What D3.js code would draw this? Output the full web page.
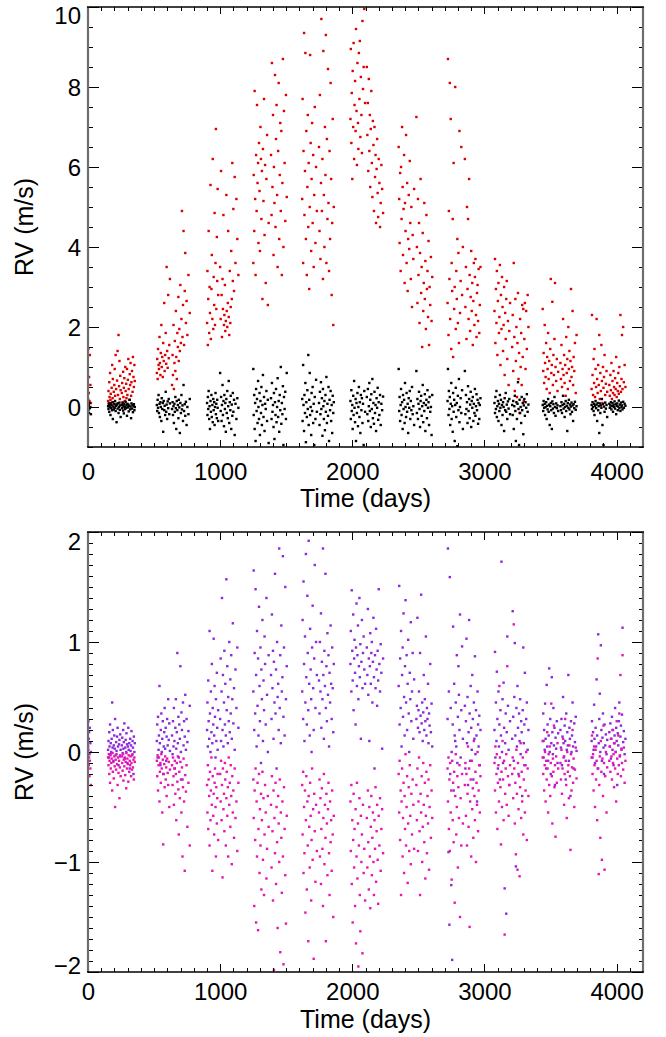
<!DOCTYPE html>
<html><head><meta charset="utf-8">
<script src="https://cdn.jsdelivr.net/npm/d3@7"></script>
<style>
html,body{margin:0;padding:0;background:#fff;}
svg{display:block;}
text{font-family:"Liberation Sans",Arial,Helvetica,sans-serif;fill:#000;}
</style></head><body>
<svg id="chart" width="666" height="1037"></svg>
<script>
// ---- DATA (one inner array per observing season) ----
const timeDays = [
[1,3,6,8,11,14,18,22],
[152,155,158,161,163,167,170,172,176,179,183,186,188,192,195,199,202,205,209,213,216,220,224,227,231,235,238,241,244,247,256,259,262,266,268,271,275,278,282,285,289,291,295,298,302,305,308,312,316,319,322,326,329,333,337,340,344,347,351,354],
[521,524,527,530,534,537,541,544,548,551,555,558,562,566,569,573,577,580,584,588,592,595,599,603,607,611,615,620,636,640,643,647,650,654,657,661,665,668,672,676,680,684,687,691,695,699,703,707,711,715,719,723,727,732,736,741,746,752,760,770],
[901,904,907,910,913,917,920,923,927,930,934,937,941,944,948,951,955,958,961,965,968,971,975,978,981,985,1000,1004,1007,1011,1014,1018,1021,1025,1029,1032,1036,1039,1043,1047,1050,1054,1058,1061,1065,1069,1073,1077,1080,1084,1088,1092,1096,1100,1105,1110,1116,1123,1130,1138],
[1251,1254,1258,1261,1265,1268,1272,1276,1279,1283,1287,1290,1294,1298,1301,1305,1309,1312,1316,1320,1324,1328,1332,1336,1340,1345,1350,1355,1361,1367,1385,1389,1392,1396,1400,1404,1407,1411,1415,1419,1423,1427,1431,1435,1439,1443,1447,1451,1455,1459,1463,1467,1471,1475,1479,1483,1488,1493,1498,1504],
[1621,1624,1628,1631,1635,1638,1642,1645,1649,1652,1656,1660,1663,1667,1670,1674,1678,1681,1685,1689,1692,1696,1700,1704,1708,1712,1716,1721,1726,1732,1748,1752,1755,1759,1763,1766,1770,1774,1778,1781,1785,1789,1793,1797,1800,1804,1808,1812,1816,1820,1824,1828,1832,1836,1840,1844,1848,1852,1856,1860],
[1986,1989,1993,1996,2000,2003,2007,2010,2014,2017,2021,2025,2028,2032,2035,2039,2043,2046,2050,2054,2057,2061,2065,2069,2073,2077,2081,2086,2091,2097,2110,2114,2118,2121,2125,2129,2133,2136,2140,2144,2148,2152,2156,2160,2164,2168,2172,2176,2180,2184,2188,2192,2196,2200,2205,2210,2215,2220,2226,2233],
[2351,2355,2358,2362,2366,2369,2373,2377,2381,2384,2388,2392,2396,2399,2403,2407,2411,2415,2419,2423,2427,2431,2435,2439,2443,2447,2452,2457,2462,2468,2485,2489,2493,2497,2501,2505,2509,2513,2517,2521,2525,2529,2533,2537,2541,2545,2549,2553,2557,2561,2565,2569,2573,2577,2581,2585,2590,2595,2600,2605],
[2721,2724,2728,2731,2735,2738,2741,2745,2749,2752,2756,2760,2763,2767,2771,2775,2779,2783,2787,2791,2795,2799,2803,2807,2811,2815,2820,2825,2831,2837,2852,2856,2860,2864,2868,2872,2876,2880,2884,2888,2892,2896,2900,2904,2908,2912,2916,2920,2924,2928,2932,2936,2940,2944,2948,2952,2956,2961,2965,2970],
[3076,3080,3083,3087,3091,3094,3098,3102,3106,3110,3113,3117,3121,3125,3129,3133,3137,3141,3145,3149,3153,3157,3161,3165,3169,3173,3178,3183,3188,3194,3210,3214,3218,3222,3226,3230,3234,3238,3242,3246,3250,3254,3258,3262,3266,3270,3274,3278,3282,3286,3290,3294,3298,3302,3306,3311,3316,3321,3327,3333],
[3441,3445,3448,3452,3456,3459,3463,3467,3471,3475,3478,3482,3486,3490,3494,3498,3502,3506,3510,3514,3518,3522,3526,3530,3534,3538,3543,3548,3553,3558,3575,3579,3583,3587,3591,3595,3599,3603,3607,3611,3615,3619,3623,3627,3631,3635,3639,3643,3647,3651,3655,3659,3663,3667,3671,3675,3680,3685,3691,3697],
[3811,3814,3818,3822,3826,3830,3833,3837,3841,3845,3849,3853,3857,3861,3865,3869,3873,3877,3881,3885,3889,3893,3897,3901,3905,3909,3914,3919,3924,3929,3945,3949,3953,3957,3961,3965,3969,3973,3977,3981,3985,3989,3993,3997,4001,4005,4009,4013,4017,4021,4025,4029,4033,4037,4041,4045,4050,4055,4061,4067]
];

// top panel, red: activity RV (m/s)
const rvActivity = [
[0.20,1.45,0.35,0.75,0.15,1.30,0.55,0.10],
[0.15,0.40,0.10,0.62,0.25,0.85,0.18,0.33,0.05,0.48,1.05,0.22,0.70,0.12,0.38,0.55,0.95,0.28,1.30,0.45,0.08,0.66,1.40,0.30,1.80,0.52,1.15,0.20,0.78,0.42,0.35,0.60,0.12,0.88,0.25,0.48,0.72,0.15,1.00,0.40,0.58,0.22,0.95,0.30,0.68,1.20,0.45,0.18,0.82,0.55,1.10,0.28,0.62,0.90,0.38,1.25,0.75,0.50,1.05,0.65],
[0.85,1.20,0.70,1.45,1.05,0.95,1.75,1.10,0.80,1.35,2.05,1.00,1.25,0.75,1.60,1.15,2.60,0.90,1.30,1.85,1.08,3.50,1.40,0.98,2.80,1.22,1.55,3.20,0.55,1.30,0.80,2.05,0.45,1.10,1.65,0.90,2.40,1.25,0.70,1.85,1.50,2.75,1.15,1.95,1.40,3.05,1.60,2.20,4.90,1.75,2.55,4.40,1.55,2.90,3.85,2.10,2.65,1.80,3.30,2.35],
[2.10,3.40,1.55,2.70,4.40,1.85,3.00,2.35,5.55,1.70,2.95,3.80,2.20,6.20,1.95,3.25,2.55,4.85,2.05,3.60,6.95,2.45,4.25,3.15,5.45,2.80,3.50,2.20,5.90,2.80,1.75,3.20,2.45,4.80,2.05,2.30,3.05,1.90,2.15,5.30,2.40,2.00,2.60,4.40,2.25,1.80,3.40,2.10,2.50,3.90,2.70,6.10,3.15,4.95,2.90,5.75,3.60,5.20,4.20,3.30],
[3.60,5.80,4.40,7.90,5.20,3.30,6.30,4.90,7.55,5.60,6.10,4.10,6.60,5.40,3.90,7.00,6.20,4.70,5.90,2.70,6.45,5.15,7.70,4.30,6.05,3.10,5.70,6.80,2.55,4.60,6.30,4.80,8.60,5.50,7.30,3.80,6.00,5.10,8.30,4.50,6.70,7.55,5.30,3.50,6.40,8.10,4.20,5.80,7.10,4.90,6.90,3.30,5.60,8.70,4.00,7.40,6.10,4.65,7.80,5.25],
[5.20,7.70,3.60,6.40,9.35,4.80,5.90,8.85,4.20,6.90,3.30,5.50,7.30,4.50,6.10,2.95,5.00,8.80,6.60,3.90,5.70,7.10,4.60,6.30,3.50,5.30,7.50,4.10,6.00,4.90,6.50,4.40,7.80,3.70,5.60,9.70,4.90,6.20,3.20,8.90,5.30,4.00,7.00,5.80,9.30,3.60,6.70,4.70,8.45,5.10,3.40,6.40,4.20,8.10,5.70,2.80,4.60,7.20,2.05,5.00],
[7.20,8.95,6.60,7.85,5.70,8.40,7.00,9.10,6.20,7.55,8.15,6.90,9.45,7.40,6.05,8.60,7.10,6.45,8.85,7.70,9.15,6.75,8.25,7.30,6.35,9.65,7.95,8.50,9.95,7.60,8.50,6.80,7.60,5.90,8.20,6.40,7.30,5.50,6.95,7.90,6.10,5.25,7.15,6.55,4.90,7.00,5.75,6.30,4.60,5.95,6.70,5.35,4.75,6.20,5.60,4.50,5.10,6.05,5.45,4.85],
[6.50,5.20,4.10,5.85,3.40,6.00,4.70,7.00,5.50,3.80,4.95,6.30,3.10,5.10,4.40,6.80,3.60,5.60,2.90,4.20,5.30,3.95,6.15,4.60,3.20,5.00,2.50,4.30,3.70,5.45,7.25,4.00,2.60,5.20,3.30,4.60,2.10,3.85,5.70,2.85,3.50,1.50,4.35,2.40,3.10,5.10,2.70,3.65,1.95,4.80,2.95,3.40,2.25,4.15,1.55,3.00,2.55,3.75,2.15,3.25],
[2.60,8.70,1.80,4.90,3.20,8.10,2.20,7.20,1.45,3.60,2.90,4.70,1.25,6.10,2.45,3.00,8.00,1.95,3.40,2.70,4.20,2.10,3.85,1.60,6.90,2.35,3.15,6.50,2.80,4.00,6.20,2.50,3.50,1.70,5.00,2.95,4.70,2.20,5.70,3.30,1.90,2.75,3.90,2.40,3.10,1.55,2.65,3.60,2.05,3.25,3.70,2.30,1.75,2.85,3.05,2.15,3.45,1.85,2.55,3.50],
[2.40,3.70,1.60,2.95,2.10,3.40,1.30,2.65,3.10,1.85,2.25,3.55,1.05,2.80,1.95,3.25,2.50,1.40,2.05,3.00,0.80,2.35,1.70,2.70,3.15,1.20,2.15,0.55,1.90,2.60,1.50,2.30,0.90,3.60,1.75,0.40,2.70,1.15,2.00,0.25,1.60,2.85,0.70,1.35,-0.15,2.20,1.00,1.85,0.55,2.55,1.25,2.45,0.15,1.70,2.60,0.95,2.40,1.45,2.80,2.00],
[2.45,0.90,1.35,0.60,2.05,1.10,0.75,1.60,0.45,1.25,0.95,1.85,0.70,1.15,0.35,1.45,3.20,0.85,1.05,2.63,0.55,1.30,0.80,1.70,3.10,1.00,0.65,1.20,0.40,0.88,1.10,0.70,1.55,0.50,0.95,2.20,0.80,1.30,0.60,1.05,0.28,1.75,0.85,1.20,0.45,2.00,0.95,1.40,0.65,1.15,2.95,0.75,1.00,2.40,0.55,1.25,0.90,1.60,0.35,1.80],
[0.45,2.30,0.80,0.30,1.20,0.60,1.45,0.25,0.95,0.50,2.20,0.70,0.35,1.05,0.55,1.80,0.20,0.85,0.40,1.55,0.65,0.10,1.00,0.48,0.75,1.30,0.30,0.58,0.90,0.38,0.55,0.28,0.80,0.42,1.10,0.20,0.65,0.35,0.90,0.50,0.30,0.72,0.45,1.25,0.25,0.60,0.40,0.85,0.33,1.00,0.52,2.30,0.38,0.70,1.80,0.45,2.00,0.62,1.05,0.50]
];

// top panel, black: residual RV (m/s)
const rvResidual = [
[0.02,-0.08,0.05,-0.15,0.10,-0.03,0.00,-0.18],
[0.02,-0.05,0.08,-0.12,0.00,0.05,-0.20,0.10,-0.03,0.04,-0.08,0.12,-0.30,0.01,-0.06,0.07,-0.02,0.15,-0.10,0.03,-0.38,0.06,-0.04,0.09,-0.15,0.00,0.11,-0.07,0.04,-0.25,0.05,-0.03,0.10,-0.09,0.02,-0.16,0.07,0.00,-0.05,0.13,-0.02,0.04,-0.22,0.08,-0.01,0.06,-0.11,0.03,0.18,-0.06,0.01,-0.28,0.09,-0.04,0.05,-0.13,0.02,0.07,-0.08,0.00],
[0.05,-0.10,0.18,-0.02,0.30,-0.15,0.08,-0.25,0.12,0.00,-0.35,0.22,-0.05,0.10,-0.62,0.15,-0.08,0.03,-0.20,0.38,-0.12,0.06,-0.30,0.14,-0.03,0.20,-0.18,0.09,-0.05,0.12,-0.20,0.02,-0.40,0.08,-0.12,0.25,-0.03,-0.55,0.15,-0.08,0.05,-0.28,0.18,-0.01,-0.65,0.10,-0.15,0.30,-0.06,0.04,-0.35,0.55,-0.10,0.07,-0.22,0.13,-0.45,0.00,-0.18,0.20],
[0.10,-0.20,0.25,-0.05,0.40,-0.30,0.02,-0.55,0.15,-0.12,0.30,-0.25,0.05,-0.38,0.20,-0.08,0.12,-0.45,0.00,0.35,-0.18,0.08,-0.28,0.18,-0.02,-0.35,0.85,-0.10,0.25,-0.35,0.05,0.55,-0.20,0.15,-0.48,0.30,-0.05,0.10,-0.62,0.20,-0.15,0.40,-0.28,0.02,0.65,-0.40,0.12,-0.08,0.28,-0.55,0.06,-0.22,0.35,-0.12,0.18,-0.70,0.08,-0.30,0.22,-0.02],
[0.95,-0.20,0.30,-0.55,0.10,-0.85,0.45,-0.10,0.20,-0.40,0.65,0.00,-0.30,0.35,-0.70,0.15,-0.15,0.50,-0.45,0.05,0.80,-0.25,0.25,-0.60,0.08,-0.05,0.40,-0.35,0.18,-0.90,0.22,-0.30,0.60,-0.12,0.05,-0.50,0.35,-0.80,0.12,-0.20,0.45,-0.38,0.00,0.72,-0.25,0.15,-0.62,0.30,-0.08,1.00,-0.42,0.10,-0.18,0.52,-0.95,0.25,-0.05,0.38,-0.30,0.85],
[0.20,-0.35,1.05,0.05,-0.60,0.30,-0.15,0.60,-0.88,0.12,-0.25,0.42,-0.05,1.30,-0.45,0.18,0.85,-0.20,0.00,-0.70,0.35,-0.10,0.50,-0.40,0.08,-0.95,0.25,-0.30,0.68,-0.12,0.10,-0.45,0.38,-0.18,0.62,-0.05,0.22,-0.72,0.45,0.02,-0.30,0.15,-0.58,0.30,-0.12,0.75,-0.40,0.08,-0.22,0.50,-0.85,0.18,-0.08,0.40,-0.35,0.05,-0.65,0.28,-0.15,0.12],
[0.15,-0.30,0.42,-0.10,0.05,-0.55,0.28,-0.20,0.65,-0.02,-0.38,0.20,-0.85,0.10,-0.15,0.35,-0.48,0.00,0.50,-0.25,0.12,-0.65,0.30,-0.08,0.22,-0.40,0.08,-0.95,0.40,-0.12,0.25,-0.18,0.45,-0.35,0.02,0.60,-0.10,0.18,-0.50,0.32,-0.05,0.70,-0.28,0.10,-0.42,0.38,-0.15,0.05,-0.60,0.22,-0.02,0.48,-0.32,0.12,-0.20,0.30,-0.45,0.08,-0.08,0.26],
[0.95,-0.10,0.25,-0.35,0.05,0.45,-0.20,0.12,-0.55,0.30,-0.05,0.18,-0.40,0.60,0.00,-0.25,0.35,-0.12,0.08,-0.65,0.22,-0.02,0.40,-0.30,0.15,-0.08,0.50,-0.18,0.02,-0.45,0.90,-0.15,0.20,-0.30,0.08,0.38,-0.05,-0.50,0.15,0.28,-0.22,0.02,0.55,-0.38,0.10,-0.10,0.32,-0.60,0.05,0.18,-0.28,0.42,-0.02,0.12,-0.45,0.25,-0.12,0.00,-0.70,0.30],
[0.15,0.95,-0.20,0.40,-0.05,0.25,-0.45,0.08,0.60,-0.30,0.02,-0.62,0.35,-0.12,0.18,-0.85,0.05,0.48,-0.25,0.10,-0.98,0.28,-0.08,0.70,-0.38,0.00,0.22,-0.15,0.42,-0.55,0.90,-0.18,0.30,-0.05,0.12,-0.40,0.52,-0.10,0.20,-0.28,0.06,0.38,-0.50,0.15,-0.02,0.25,-0.35,0.08,-0.15,0.45,-0.22,0.02,0.32,-0.08,0.18,-0.42,0.10,-0.30,0.05,0.22],
[0.10,-0.15,0.25,-0.05,0.40,-0.25,0.02,0.15,-0.35,0.08,-0.10,0.30,-0.02,0.18,-0.45,0.05,-0.20,0.12,0.00,-0.60,0.22,-0.08,0.35,-0.12,0.06,-0.30,0.14,-0.04,0.20,-0.18,0.05,-0.20,0.15,-0.55,0.02,0.28,-0.10,-0.85,0.12,-0.30,0.08,0.62,-0.05,-0.95,0.18,-0.15,0.00,-0.40,0.25,-0.08,0.10,-0.68,0.04,0.20,-0.22,0.12,-0.02,0.32,-0.12,0.06],
[0.05,-0.10,0.15,-0.02,0.08,-0.20,0.00,0.12,-0.30,0.03,-0.06,0.20,-0.12,0.06,-0.45,0.02,0.10,-0.08,-0.55,0.14,-0.04,0.07,-0.15,0.25,0.00,-0.22,0.09,-0.03,0.04,-0.10,0.02,-0.08,0.12,-0.15,0.05,0.28,-0.04,0.08,-0.25,0.00,0.15,-0.10,0.03,-0.60,0.10,-0.02,0.18,-0.06,0.06,-0.18,0.01,0.11,-0.12,0.04,-0.35,0.07,-0.03,0.13,-0.07,0.02],
[0.05,-0.05,0.12,0.00,-0.10,0.08,-0.20,0.03,0.15,-0.03,0.06,-0.35,0.10,-0.08,0.02,-0.65,0.09,-0.15,0.04,-0.02,0.20,-0.45,0.07,-0.95,0.01,-0.12,0.11,-0.04,0.05,-0.25,0.08,-0.02,0.04,0.12,-0.06,0.02,0.10,-0.12,0.05,0.00,0.14,-0.04,0.07,-0.18,0.03,0.09,-0.08,0.01,0.16,-0.03,0.06,-0.10,0.11,0.00,0.04,-0.06,0.13,-0.02,0.08,0.03]
];

// bottom panel, purple component (m/s)
const rvComponentA = [
[0.05,0.28,0.12,0.18,-0.02,0.22,0.08,0.00],
[0.02,0.10,-0.05,0.18,0.05,0.25,-0.02,0.08,0.00,0.12,0.45,0.04,0.20,-0.08,0.06,0.15,0.03,0.30,-0.03,0.09,0.01,0.14,0.22,0.05,-0.12,0.07,0.11,-0.04,0.16,0.02,0.06,0.13,-0.01,0.20,0.03,0.09,0.26,-0.06,0.04,0.11,0.00,0.17,0.07,-0.10,0.05,0.22,0.02,0.08,-0.15,0.12,0.01,0.06,0.19,-0.03,0.10,0.04,-0.20,0.14,0.00,0.08],
[0.10,0.25,-0.05,0.32,0.02,0.15,0.60,0.08,-0.12,0.20,0.35,0.00,0.12,0.28,-0.20,0.05,0.18,0.40,0.03,0.22,-0.08,0.14,0.30,0.06,0.48,0.11,0.26,0.01,0.15,-0.02,0.28,0.05,0.40,0.10,-0.15,0.22,0.48,0.03,0.18,0.90,0.08,0.32,-0.05,0.25,0.12,0.78,0.00,0.36,0.20,-0.25,0.45,0.06,0.28,0.14,0.52,0.02,0.30,0.09,0.19,0.42],
[0.20,0.45,0.05,0.65,0.28,0.12,1.10,0.35,0.00,0.55,0.18,0.80,0.08,0.40,0.25,1.03,0.15,0.60,0.32,-0.05,0.48,0.10,0.72,0.22,0.02,0.38,0.30,0.85,0.10,0.55,1.40,0.20,0.70,0.05,0.45,0.92,0.25,0.62,0.15,1.57,0.38,0.78,0.08,0.50,0.28,1.00,0.18,0.66,0.35,0.88,0.12,0.48,1.17,0.26,0.58,0.02,0.75,0.40,0.95,0.22],
[0.55,1.65,0.20,0.90,0.35,1.48,0.70,0.05,1.10,0.42,0.85,0.15,1.32,0.60,0.28,0.95,-0.10,0.75,0.48,1.20,0.10,0.65,0.38,1.05,0.80,0.25,1.40,0.52,0.00,0.88,0.70,0.30,1.25,0.58,0.92,0.12,0.82,0.45,1.62,0.35,0.75,-0.15,1.00,0.50,0.62,0.20,1.85,0.40,0.88,0.08,1.15,0.55,0.68,1.78,0.32,0.95,0.15,1.50,0.48,0.78],
[0.55,1.20,0.30,1.55,0.80,0.10,1.05,0.45,1.80,0.68,0.25,1.42,0.90,0.38,1.92,0.62,0.15,1.12,0.75,0.48,0.00,0.95,1.33,0.58,0.20,0.85,1.70,0.40,1.00,0.70,0.65,0.35,1.00,0.55,1.26,0.22,0.82,0.48,1.85,0.70,0.12,0.92,0.60,1.62,0.40,0.78,0.28,1.08,0.52,0.88,0.05,0.72,0.45,1.15,0.62,0.30,0.95,0.58,0.18,0.80],
[0.80,1.10,0.55,1.47,0.92,0.65,1.25,0.38,0.85,1.02,0.72,0.25,0.95,1.35,0.60,0.88,1.15,0.48,0.78,1.40,0.68,0.98,0.12,0.82,1.20,0.58,0.90,1.05,0.75,0.62,0.95,0.70,1.30,0.52,0.85,0.10,0.78,1.08,0.62,0.90,1.00,0.45,0.82,1.22,0.68,-0.15,0.88,0.58,1.12,0.75,0.42,0.92,0.65,1.48,0.80,0.55,0.98,0.72,0.03,0.85],
[0.60,1.51,0.25,0.85,0.40,1.10,0.05,0.70,0.95,0.32,1.26,0.50,0.15,0.78,1.38,0.45,0.88,0.20,0.62,1.02,0.35,0.00,0.72,0.48,1.18,0.28,0.55,0.90,0.12,0.66,0.30,0.42,1.22,0.22,0.38,0.55,0.18,0.90,0.33,1.43,0.26,0.45,0.10,0.36,0.70,0.20,0.48,0.28,1.05,0.15,0.40,0.30,0.62,0.08,0.35,0.24,0.80,0.18,0.44,0.05],
[0.30,1.85,-0.91,0.55,-1.57,1.59,-0.20,0.40,-1.21,0.00,-1.89,0.25,1.14,-0.35,0.62,0.15,0.10,0.45,0.05,0.88,-0.10,0.32,0.78,0.52,0.20,1.25,-0.05,0.38,0.96,0.12,0.42,-0.15,0.28,1.03,0.08,0.50,-0.30,0.18,1.20,0.35,-0.08,0.60,0.22,0.02,0.70,0.30,-0.25,0.45,0.12,0.87,-0.02,0.38,0.15,-0.45,0.55,0.25,0.05,0.33,-0.12,0.20],
[0.20,0.91,-0.05,0.45,0.10,0.73,0.30,-0.15,0.55,0.05,0.25,-0.25,0.38,0.15,1.73,0.00,0.48,-0.10,0.63,0.22,-1.24,0.08,0.35,-1.47,0.18,1.05,0.42,0.02,-0.30,0.28,0.12,1.28,0.32,-0.08,0.50,0.99,0.15,-1.04,0.40,0.05,0.60,0.22,-0.20,0.35,0.10,0.48,-0.02,0.28,0.18,-0.40,0.38,0.95,0.08,0.25,0.72,-0.12,0.30,0.45,0.02,0.20],
[0.10,0.35,-0.05,0.20,0.02,0.44,0.12,-0.15,0.61,0.05,0.25,-0.08,0.15,0.76,0.00,0.30,-0.20,0.08,0.68,0.18,-0.02,0.40,0.06,0.22,-0.30,0.13,0.03,0.28,-0.10,0.17,0.20,0.04,0.30,-0.12,0.14,0.50,0.08,-0.04,0.24,0.10,-0.25,0.35,0.02,0.18,0.06,0.70,-0.08,0.22,0.12,-0.40,0.28,0.00,0.15,0.45,0.05,-0.15,0.26,0.09,0.32,0.01],
[0.10,0.28,-0.05,0.18,0.02,0.43,0.12,-0.10,0.22,0.05,0.66,0.15,-0.15,1.07,0.08,0.30,0.53,0.00,0.97,0.20,-0.08,0.13,0.35,0.04,-0.20,0.25,0.06,0.16,-0.02,0.11,0.18,0.05,0.26,-0.06,0.12,0.32,0.02,0.20,-0.12,0.08,0.15,0.40,0.00,0.22,0.10,-0.30,0.17,0.06,0.28,0.45,-0.04,0.14,0.24,0.03,0.34,1.13,0.09,0.19,-0.02,0.12]
];

// bottom panel, magenta component (m/s)
const rvComponentB = [
[-0.02,0.02,-0.12,-0.05,-0.22,-0.08,-0.15,-0.30],
[-0.05,-0.12,-0.02,-0.20,-0.08,-0.28,-0.03,-0.15,-0.10,-0.06,-0.35,-0.01,-0.18,-0.09,-0.24,-0.04,-0.13,-0.50,-0.07,-0.16,-0.02,-0.11,-0.30,-0.05,-0.19,-0.08,-0.42,-0.14,-0.03,-0.22,-0.04,-0.10,-0.17,-0.02,-0.26,-0.07,-0.13,-0.05,-0.21,-0.09,-0.33,-0.01,-0.15,-0.06,-0.11,-0.27,-0.03,-0.18,-0.08,-0.12,-0.04,-0.22,-0.10,-0.16,-0.02,-0.14,-0.07,-0.25,-0.05,-0.09],
[-0.08,-0.22,-0.03,-0.35,-0.12,-0.05,-0.45,-0.18,-0.10,-0.28,-0.02,-0.15,-0.55,-0.07,-0.84,-0.20,-0.11,-0.32,-0.04,-0.25,-0.14,-0.40,-0.06,-0.19,-0.30,-0.09,-0.50,-0.16,-0.12,-0.30,-0.05,-0.22,-0.48,-0.15,-0.08,-0.38,-0.20,-0.62,-0.10,-0.27,-0.04,-0.34,-0.75,-0.18,-0.42,-0.09,-0.25,-0.55,-0.14,-0.95,-0.32,-0.06,-0.45,-1.08,-0.21,-0.36,-0.12,-0.68,-0.28,-0.85],
[-0.30,-0.55,-0.12,-0.70,-0.25,-0.40,-0.85,-0.18,-0.62,-0.35,-0.05,-0.48,-1.08,-0.22,-0.58,-0.38,-0.75,-0.28,-0.15,-0.50,-0.95,-0.32,-0.65,-0.42,-0.20,-0.80,-0.20,-0.45,-0.08,-0.62,-0.30,-1.14,-0.15,-0.52,-0.38,-0.72,-0.10,-0.25,-0.85,-0.42,-0.18,-0.58,-0.32,-0.95,-0.05,-0.48,-0.28,-0.68,-0.12,-0.40,-1.02,-0.22,-0.55,-0.35,-0.78,-0.15,-0.60,-0.45,-0.90,-0.28],
[-0.25,-0.60,-1.40,-0.35,-0.80,-0.15,-1.55,-0.45,-0.95,-0.28,-1.62,-0.70,-0.20,-1.10,-0.52,-0.85,-0.38,-1.25,-0.62,-0.18,-0.98,-0.42,-1.30,-0.75,-0.30,-0.55,-1.15,-0.88,-0.40,-0.68,-0.48,-1.05,-0.22,-0.72,-1.35,-0.35,-1.98,-0.60,-0.92,-0.28,-1.20,-0.50,-0.82,-1.60,-0.40,-0.65,-1.00,-0.25,-1.82,-0.55,-0.78,-1.28,-0.45,-0.95,-1.93,-0.32,-0.70,-1.12,-1.56,-0.58],
[-0.30,-0.75,-0.18,-1.10,-0.50,-0.92,-0.35,-1.46,-0.62,-0.22,-1.25,-0.45,-0.85,-1.72,-0.40,-0.68,-1.05,-0.28,-0.58,-1.35,-0.80,-0.15,-0.98,-0.52,-1.88,-0.38,-0.72,-1.18,-0.48,-0.90,-0.55,-0.25,-0.95,-0.42,-1.20,-0.70,-0.33,-0.88,-1.40,-0.60,-0.20,-1.02,-0.48,-0.78,-1.72,-0.38,-0.65,-1.12,-0.52,-0.28,-0.92,-1.30,-0.45,-0.82,-0.62,-1.08,-0.35,-0.75,-1.50,-0.58],
[-0.45,-0.90,-0.30,-1.20,-0.62,-1.55,-0.80,-0.38,-1.05,-0.70,-1.40,-0.52,-1.74,-0.95,-0.28,-1.15,-0.65,-1.95,-0.85,-0.42,-1.30,-1.63,-0.58,-1.00,-0.75,-1.83,-0.48,-1.10,-0.88,-1.35,-0.60,-1.05,-0.35,-0.82,-1.25,-0.50,-0.95,-1.42,-0.68,-0.40,-1.12,-0.78,-0.55,-1.00,-1.30,-0.62,-0.88,-0.32,-1.18,-0.72,-0.48,-0.98,-1.38,-0.58,-0.85,-0.42,-1.08,-0.70,-0.52,-0.92],
[-0.20,-0.55,-0.08,-0.80,-0.35,-1.30,-0.45,-0.15,-0.95,-0.60,-0.28,-1.10,-0.40,-0.70,-0.02,-0.85,-0.50,-0.22,-1.19,-0.65,-0.32,-0.90,-0.12,-0.58,-1.02,-0.38,-0.75,-0.25,-0.48,-0.88,-0.30,-0.62,-0.15,-0.90,-0.45,-0.05,-0.72,-1.30,-0.38,-0.55,-0.22,-1.00,-0.68,-0.10,-0.48,-0.82,-0.28,-1.15,-0.58,-0.18,-0.92,-0.40,-0.65,-0.25,-1.07,-0.50,-0.12,-0.78,-0.35,-0.60],
[-0.15,-0.45,-0.05,-0.70,-0.25,-0.90,-0.10,-0.55,-0.35,-1.16,-0.08,-0.62,-0.28,-0.82,-0.18,-1.37,-0.40,-0.02,-0.75,-0.50,-0.22,-1.05,-0.32,-0.60,-0.12,-1.50,-0.42,-0.85,-0.20,-0.65,-0.30,-0.10,-0.58,-0.20,-0.85,-0.38,0.05,-0.68,-0.15,-1.59,-0.45,-0.25,-0.95,-0.08,-0.52,-0.33,-0.78,0.10,-0.40,-0.62,-0.18,-1.00,-0.28,-0.48,0.00,-0.72,-0.35,-0.12,-0.55,-0.22],
[-0.10,-0.35,0.05,-0.55,-0.20,-0.02,-0.70,-0.28,-0.12,-0.45,0.60,-0.05,-0.32,-0.84,-0.18,-0.50,0.10,-0.25,-0.62,-0.08,-1.66,-0.38,-0.15,-0.02,-0.48,0.78,-0.22,-0.58,-0.30,-0.12,-0.20,-0.05,-0.42,1.16,-0.15,-0.65,-0.28,-0.93,0.02,-0.38,-1.07,-0.10,-0.52,-0.22,-1.13,-0.32,0.08,-0.60,-0.18,-0.45,-0.05,-0.75,-0.25,-0.12,-0.55,-0.35,0.00,-0.80,-0.15,-0.40],
[-0.05,-0.20,0.10,-0.35,-0.12,0.00,-0.45,-0.08,-0.25,0.18,-0.15,-0.55,-0.02,-0.30,0.05,-0.40,-0.10,0.44,-0.22,-0.65,-0.06,-0.18,0.24,-0.32,-0.12,-0.77,-0.04,-0.28,0.08,-0.15,-0.10,-0.25,0.02,-0.38,-0.15,0.12,-0.05,-0.48,-0.20,0.30,-0.08,-0.30,-0.60,0.00,-0.18,-0.12,-0.42,0.06,-0.22,-0.89,-0.02,-0.35,-0.14,0.20,-0.28,-0.06,-0.50,-0.16,0.04,-0.24],
[-0.05,0.15,-0.20,-0.02,-0.35,0.05,-0.12,-0.50,0.02,-0.25,-0.08,-0.62,0.85,-0.15,-1.11,-0.30,-0.04,-0.78,0.10,-0.18,-0.98,-0.06,-0.40,0.24,-0.10,-1.07,-0.22,0.00,-0.55,-0.14,-0.08,0.05,-0.18,0.12,-0.04,-0.25,0.20,-0.10,-0.02,-0.32,0.08,-0.15,0.00,-0.45,0.28,-0.06,-0.20,0.15,-0.12,0.35,-0.03,0.70,-0.22,0.02,-0.10,0.88,-0.16,0.04,-0.28,-0.08]
];

const xTickValues = [0, 1000, 2000, 3000, 4000];
const topYTickValues = [0, 2, 4, 6, 8, 10];
const bottomYTickValues = [-2, -1, 0, 1, 2];
const xAxisTitle = "Time (days)";
const yAxisTitle = "RV (m/s)";

// ---- LAYOUT ----
const svg = d3.select('#chart');
const plotLeft = 88, plotRight = 643;
const xDomain = [0, 4200];
const dot = 2.4;

const panels = [
  { top: 7, bottom: 447, yDomain: [-1, 10], yMajor: topYTickValues, yMinorStep: 0.5,
    xLabelBaseline: 479.5, titleBaseline: 506.5, xMajorLen: 7,
    labelShift: { "10": 8 },
    series: [ { values: rvActivity, color: '#d80000' }, { values: rvResidual, color: '#000000' } ] },
  { top: 532, bottom: 972, yDomain: [-2, 2], yMajor: bottomYTickValues, yMinorStep: 0.1,
    xLabelBaseline: 1000, titleBaseline: 1027.5, xMajorLen: 8,
    labelShift: { "2": 9, "-2": -7 },
    series: [ { values: rvComponentA, color: '#8a2ad8' }, { values: rvComponentB, color: '#e616b4' } ] }
];

const x = d3.scaleLinear().domain(xDomain).range([plotLeft, plotRight]);
const xMinor = d3.range(0, 43).map(i => i * 100).filter(v => v % 1000 !== 0);
const fmt = d3.format('d');

panels.forEach((P, pi) => {
  const y = d3.scaleLinear().domain(P.yDomain).range([P.bottom, P.top]);
  const nMinor = Math.round((P.yDomain[1] - P.yDomain[0]) / P.yMinorStep);
  const yMinor = d3.range(0, nMinor + 1)
    .map(i => +(P.yDomain[0] + i * P.yMinorStep).toFixed(4))
    .filter(v => !P.yMajor.some(m => Math.abs(m - v) < 1e-6));

  const g = svg.append('g');

  const clipId = 'clip' + pi;
  svg.append('clipPath').attr('id', clipId)
    .append('rect').attr('x', plotLeft).attr('y', P.top)
    .attr('width', plotRight - plotLeft).attr('height', P.bottom - P.top);

  const pts = g.append('g').attr('clip-path', `url(#${clipId})`);
  P.series.forEach(S => {
    const flat = [];
    timeDays.forEach((ts, si) => {
      const vs = S.values[si] || [];
      const n = Math.min(ts.length, vs.length);
      for (let i = 0; i < n; i++) flat.push([ts[i], vs[i]]);
    });
    pts.append('g').selectAll('rect').data(flat).join('rect')
      .attr('x', d => x(d[0]) - dot / 2).attr('y', d => y(d[1]) - dot / 2)
      .attr('width', dot).attr('height', dot)
      .attr('fill', S.color);
  });

  const axStyle = sel => {
    sel.select('.domain').remove();
    sel.selectAll('.tick line').attr('stroke', '#000').attr('stroke-width', 1).attr('shape-rendering', 'crispEdges');
  };

  const xb = g.append('g').attr('transform', `translate(0,${P.bottom})`)
    .call(d3.axisBottom(x).tickValues(xTickValues).tickSize(-P.xMajorLen).tickFormat(fmt));
  axStyle(xb);
  xb.selectAll('.tick text').attr('y', P.xLabelBaseline - P.bottom).attr('dy', null)
    .attr('font-size', 24).attr('fill', '#000');
  const xbm = g.append('g').attr('transform', `translate(0,${P.bottom})`)
    .call(d3.axisBottom(x).tickValues(xMinor).tickSize(-4).tickFormat(''));
  axStyle(xbm);

  const xt = g.append('g').attr('transform', `translate(0,${P.top})`)
    .call(d3.axisTop(x).tickValues(xTickValues).tickSize(-P.xMajorLen).tickFormat(''));
  axStyle(xt);
  const xtm = g.append('g').attr('transform', `translate(0,${P.top})`)
    .call(d3.axisTop(x).tickValues(xMinor).tickSize(-4).tickFormat(''));
  axStyle(xtm);

  const yl = g.append('g').attr('transform', `translate(${plotLeft},0)`)
    .call(d3.axisLeft(y).tickValues(P.yMajor).tickSize(-11).tickFormat(fmt));
  axStyle(yl);
  yl.selectAll('.tick text').attr('x', -7).attr('font-size', 24).attr('fill', '#000')
    .attr('dy', '0.34em')
    .attr('y', d => (P.labelShift[String(d)] || 0));
  const ylm = g.append('g').attr('transform', `translate(${plotLeft},0)`)
    .call(d3.axisLeft(y).tickValues(yMinor).tickSize(-4.5).tickFormat(''));
  axStyle(ylm);

  const yr = g.append('g').attr('transform', `translate(${plotRight},0)`)
    .call(d3.axisRight(y).tickValues(P.yMajor).tickSize(-11).tickFormat(''));
  axStyle(yr);
  const yrm = g.append('g').attr('transform', `translate(${plotRight},0)`)
    .call(d3.axisRight(y).tickValues(yMinor).tickSize(-4.5).tickFormat(''));
  axStyle(yrm);

  g.append('line').attr('x1', plotLeft).attr('x2', plotLeft).attr('y1', P.top).attr('y2', P.bottom)
    .attr('stroke', '#6e6e6e').attr('stroke-width', 2.2);
  g.append('line').attr('x1', plotRight).attr('x2', plotRight).attr('y1', P.top).attr('y2', P.bottom)
    .attr('stroke', '#6e6e6e').attr('stroke-width', 2.2);
  g.append('line').attr('x1', plotLeft - 1).attr('x2', plotRight + 1).attr('y1', P.top).attr('y2', P.top)
    .attr('stroke', '#000').attr('stroke-width', 1.6);
  g.append('line').attr('x1', plotLeft - 1).attr('x2', plotRight + 1).attr('y1', P.bottom).attr('y2', P.bottom)
    .attr('stroke', '#000').attr('stroke-width', 1.6);

  g.append('text').attr('x', (plotLeft + plotRight) / 2).attr('y', P.titleBaseline)
    .attr('text-anchor', 'middle').attr('font-size', 25).text(xAxisTitle);
  g.append('text')
    .attr('transform', `translate(32.5,${(P.top + P.bottom) / 2}) rotate(-90)`)
    .attr('text-anchor', 'middle').attr('font-size', 25).text(yAxisTitle);
});
</script>
</body></html>
